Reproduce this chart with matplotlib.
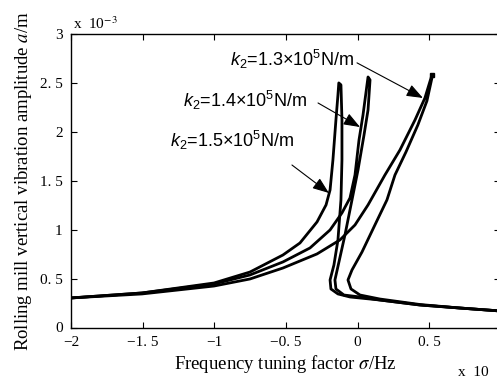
import matplotlib
matplotlib.use("Agg")
from matplotlib import pyplot as plt
import numpy as np

# frequency tuning factor (sigma) and amplitude (x 1e-3 m)
# each curve: upper branch -> peak -> unstable branch -> lower branch
sig_15 = [-2.0, -1.505, -1.002, -0.751, -0.521, -0.402, -0.283, -0.220, -0.192, -0.172, -0.151, -0.137, -0.131,
          -0.116, -0.109, -0.109, -0.116, -0.137, -0.165, -0.192, -0.186, -0.137, -0.053, 0.156, 0.435, 0.715, 0.994]
amp_15 = [0.302, 0.353, 0.455, 0.567, 0.741, 0.864, 1.079, 1.253, 1.406, 1.713, 2.122, 2.377, 2.500,
          2.480, 2.122, 1.713, 1.304, 0.895, 0.639, 0.486, 0.394, 0.343, 0.312, 0.281, 0.230, 0.199, 0.169]

sig_14 = [-2.0, -1.505, -1.002, -0.751, -0.521, -0.332, -0.192, -0.109, -0.053, -0.018, 0.010, 0.038, 0.073,
          0.087, 0.073, 0.045, 0.003, -0.039, -0.088, -0.130, -0.158, -0.151, -0.095, 0.017, 0.156, 0.435, 0.715, 0.994]
amp_14 = [0.302, 0.353, 0.445, 0.537, 0.670, 0.813, 0.997, 1.171, 1.324, 1.559, 1.917, 2.173, 2.561,
          2.531, 2.224, 1.968, 1.610, 1.304, 0.946, 0.670, 0.486, 0.394, 0.332, 0.312, 0.281, 0.230, 0.199, 0.169]

sig_13 = [-2.0, -1.505, -1.002, -0.751, -0.521, -0.283, -0.123, -0.018, 0.073, 0.191, 0.296, 0.401, 0.470, 0.519,
          0.519, 0.484, 0.421, 0.338, 0.261, 0.205, 0.121, 0.031, -0.039, -0.067, -0.046, 0.017, 0.156, 0.435, 0.715, 0.994]
amp_13 = [0.302, 0.343, 0.424, 0.496, 0.608, 0.752, 0.895, 1.048, 1.253, 1.559, 1.815, 2.122, 2.346, 2.582,
          2.551, 2.316, 2.071, 1.795, 1.559, 1.304, 1.048, 0.772, 0.588, 0.486, 0.394, 0.332, 0.291, 0.235, 0.199, 0.169]

xticks = [-2, -1.5, -1, -0.5, 0, 0.5]
xticklabels = ['\u22122', '\u22121. 5', '\u22121', '\u22120. 5', '0', '0. 5']
yticks = [0, 0.5, 1, 1.5, 2, 2.5, 3]
yticklabels = ['0', '0. 5', '1', '1. 5', '2', '2. 5', '3']

labels = [r'$k_2$=1.3$\times$10$^5$N/m', r'$k_2$=1.4$\times$10$^5$N/m', r'$k_2$=1.5$\times$10$^5$N/m']
label_xy = [(-0.890, 2.674), (-1.218, 2.255), (-1.309, 1.846)]
arrow_tail = [(-0.004, 2.705), (-0.276, 2.295), (-0.458, 1.661)]
arrow_tip = [(0.456, 2.346), (0.017, 2.049), (-0.200, 1.375)]

plt.rcParams['mathtext.fontset'] = 'custom'
plt.rcParams['mathtext.rm'] = 'Liberation Sans'
plt.rcParams['mathtext.it'] = 'Liberation Sans:italic'

fig = plt.figure(figsize=(4.97, 3.81), dpi=100)
ax = fig.add_axes([71 / 497, 53.5 / 381, 429 / 497, 293.5 / 381])

for s, a in [(sig_15, amp_15), (sig_14, amp_14), (sig_13, amp_13)]:
    ax.plot(s, a, color='k', lw=2.0, solid_joinstyle='round')
ax.plot([sig_13[13]], [amp_13[13]], 'ks', ms=2.5)

ax.set_xlim(-2, 0.994)
ax.set_ylim(0, 3)
ax.set_xticks(xticks)
ax.set_xticklabels(xticklabels, family='Liberation Serif', fontsize=11)
ax.set_yticks(yticks)
ax.set_yticklabels(yticklabels, family='Liberation Serif', fontsize=11)
ax.tick_params(direction='in', length=4, width=0.8, top=True, right=True, pad=6)
for sp in ax.spines.values():
    sp.set_linewidth(1.0)

ax.set_xlabel(r'Frequency tuning factor $\sigma$/Hz', family='Liberation Serif', fontsize=13.5,
              math_fontfamily='stix', labelpad=3)
ax.set_ylabel(r'Rolling mill vertical vibration amplitude $a$/m', family='Liberation Serif', fontsize=13.5,
              math_fontfamily='stix', labelpad=4)

fig.text(73 / 497, 1 - 24 / 381, r'x  10$^{-3}$', family='Liberation Serif', fontsize=11,
         math_fontfamily='stix', va='center')
fig.text(458 / 497, 1 - 373 / 381, 'x  10', family='Liberation Serif', fontsize=11, va='center')

for txt, xy, tail, tip in zip(labels, label_xy, arrow_tail, arrow_tip):
    ax.text(xy[0], xy[1], txt, fontsize=13, family='Liberation Sans', va='baseline', ha='left')
    ax.annotate('', xy=tip, xytext=tail,
                arrowprops=dict(arrowstyle='-|>,head_length=1.0,head_width=0.38', color='k', lw=0.8,
                                shrinkA=0, shrinkB=0))

fig.savefig('out.png', dpi=100)
